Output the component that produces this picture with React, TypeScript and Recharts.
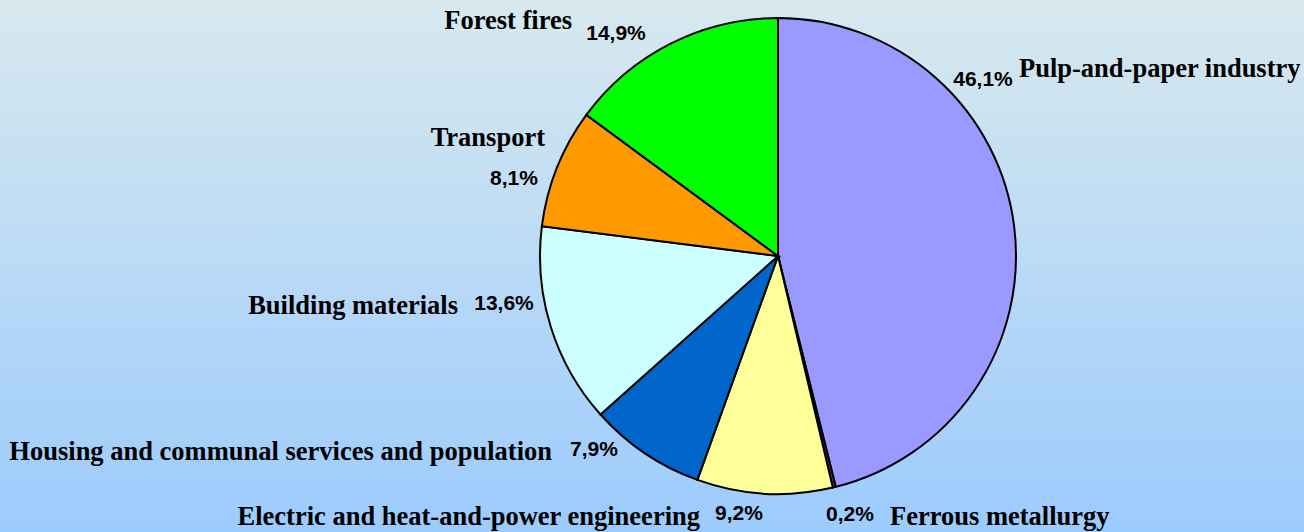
import React from "react";
import { PieChart, Pie, Cell } from "recharts";

const categories = [
  "Pulp-and-paper industry",
  "Ferrous metallurgy",
  "Electric and heat-and-power engineering",
  "Housing and communal services and population",
  "Building materials",
  "Transport",
  "Forest fires",
];
const shares = [46.1, 0.2, 9.2, 7.9, 13.6, 8.1, 14.9];
const colors = ["#9999FF", "#993366", "#FFFF99", "#0066CC", "#CCFFFF", "#FF9900", "#00FF00"];

// label placement offsets relative to pie center (percent label center, name anchor)
const pctOffsets = [
  [205, -178],
  [72, 257],
  [-39, 256],
  [-184, 192],
  [-274, 46],
  [-264, -79],
  [-162, -224],
];
const nameOffsets = [
  [241, -188, "start"],
  [112, 260, "start"],
  [-78, 260, "end"],
  [-226, 195, "end"],
  [-320, 49, "end"],
  [-233, -119, "end"],
  [-206, -236, "end"],
];

const data = categories.map((name, i) => ({ name, value: shares[i] }));

const renderLabel = (props: any) => {
  const { cx, cy, index, value, name } = props;
  const [pdx, pdy] = pctOffsets[index];
  const [ndx, ndy, anchor] = nameOffsets[index] as [number, number, any];
  return (
    <g key={`lbl-${index}`}>
      <text
        x={cx + pdx}
        y={cy + pdy}
        textAnchor="middle"
        dominantBaseline="central"
        fontFamily="'Liberation Sans', Arial, sans-serif"
        fontWeight="bold"
        fontSize={21}
        fill="#000"
      >
        {value.toFixed(1).replace(".", ",") + "%"}
      </text>
      <text
        x={cx + ndx}
        y={cy + ndy}
        textAnchor={anchor}
        dominantBaseline="central"
        fontFamily="'Liberation Serif', 'Times New Roman', serif"
        fontWeight="bold"
        fontSize={26.5}
        fill="#000"
      >
        {name}
      </text>
    </g>
  );
};

export default function App() {
  return (
    <div
      style={{
        position: "absolute",
        left: 0,
        top: 0,
        width: 1304,
        height: 532,
        background: "linear-gradient(to bottom, #D8E9EE 0%, #9CCBFD 100%)",
      }}
    >
      <PieChart width={1304} height={532} margin={{ top: 0, right: 0, bottom: 0, left: 0 }}>
        <Pie
          data={data}
          dataKey="value"
          nameKey="name"
          cx={778}
          cy={256}
          outerRadius={238}
          startAngle={90}
          endAngle={-270}
          stroke="#000"
          strokeWidth={2}
          label={renderLabel}
          labelLine={false}
          isAnimationActive={false}
        >
          {data.map((d, i) => (
            <Cell key={d.name} fill={colors[i]} />
          ))}
        </Pie>
      </PieChart>
    </div>
  );
}
